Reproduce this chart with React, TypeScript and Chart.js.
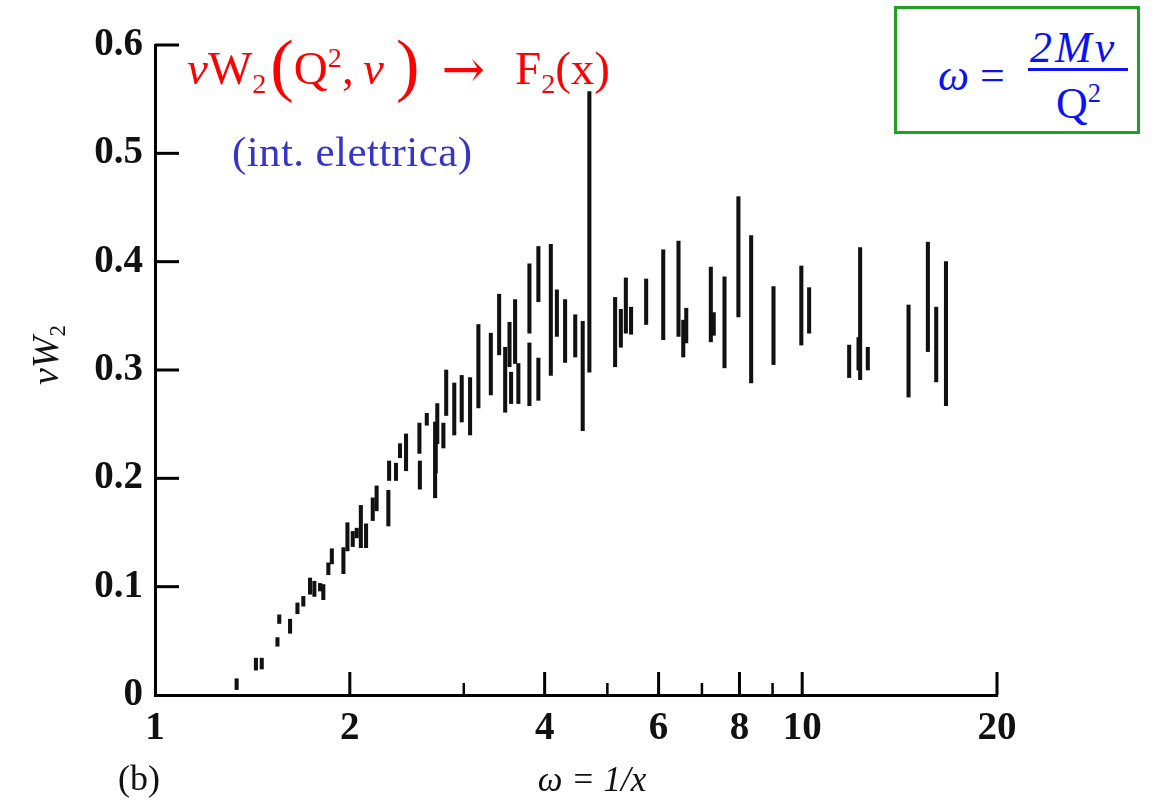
import React, { useEffect, useRef } from "react";
import { Chart, registerables } from "chart.js";

Chart.register(...registerables);

const omegaValues = [
  1.337, 1.432, 1.462, 1.546, 1.556, 1.617, 1.66, 1.695, 1.736, 1.763,
  1.799, 1.82, 1.853, 1.876, 1.955, 1.983, 2.021, 2.05, 2.08, 2.119,
  2.17, 2.2, 2.294, 2.3, 2.357, 2.391, 2.443, 2.562, 2.566, 2.63,
  2.709, 2.715, 2.73, 2.79, 2.818, 2.9, 2.978, 3.068, 3.16, 3.303,
  3.402, 3.476, 3.53, 3.55, 3.601, 3.643, 3.789, 3.789, 3.912, 3.912,
  4.089, 4.178, 4.302, 4.46, 4.58, 4.69, 5.14, 5.246, 5.34, 5.44,
  5.74, 6.1, 6.44, 6.55, 6.62, 7.225, 7.3, 7.585, 7.97, 8.34,
  9.03, 9.97, 10.25, 11.82, 12.22, 12.29, 12.63, 14.6, 15.64, 16.11,
  16.68,
];
// lower end of each error bar (nu W2)
const lowValues = [
  0.005, 0.023, 0.024, 0.045, 0.066, 0.057, 0.075, 0.082, 0.093, 0.091,
  0.096, 0.088, 0.111, 0.121, 0.112, 0.133, 0.137, 0.145, 0.136, 0.136,
  0.161, 0.17, 0.156, 0.198, 0.198, 0.219, 0.207, 0.223, 0.19, 0.249,
  0.182, 0.205, 0.232, 0.228, 0.258, 0.24, 0.252, 0.24, 0.265, 0.277,
  0.314, 0.261, 0.303, 0.269, 0.306, 0.269, 0.334, 0.267, 0.363, 0.272,
  0.295, 0.331, 0.307, 0.312, 0.244, 0.298, 0.303, 0.321, 0.334, 0.333,
  0.342, 0.328, 0.331, 0.312, 0.325, 0.326, 0.332, 0.302, 0.349, 0.288,
  0.305, 0.323, 0.334, 0.293, 0.3, 0.291, 0.3, 0.275, 0.317, 0.289,
  0.267,
];
// upper end of each error bar (nu W2)
const highValues = [
  0.015, 0.034, 0.034, 0.053, 0.074, 0.07, 0.085, 0.091, 0.108, 0.105,
  0.103, 0.102, 0.122, 0.135, 0.136, 0.159, 0.151, 0.154, 0.175, 0.158,
  0.182, 0.193, 0.189, 0.216, 0.214, 0.232, 0.241, 0.251, 0.216, 0.26,
  0.252, 0.232, 0.269, 0.251, 0.3, 0.288, 0.295, 0.293, 0.342, 0.334,
  0.37, 0.321, 0.344, 0.298, 0.365, 0.306, 0.398, 0.325, 0.414, 0.311,
  0.416, 0.374, 0.365, 0.351, 0.345, 0.557, 0.367, 0.356, 0.385, 0.358,
  0.384, 0.411, 0.419, 0.346, 0.357, 0.395, 0.353, 0.386, 0.46, 0.424,
  0.377, 0.396, 0.376, 0.323, 0.33, 0.413, 0.321, 0.36, 0.418, 0.358,
  0.4,
];

const xTickLabels = [1, 2, 4, 6, 8, 10, 20];
const xMajorMarks = [2, 4, 6, 8, 10, 20];
const xMinorMarks = [3, 5, 7, 9];
const yTickValues = [0, 0.1, 0.2, 0.3, 0.4, 0.5, 0.6];
const yTickLabels = ["0", "0.1", "0.2", "0.3", "0.4", "0.5", "0.6"];

const SERIF = '"Liberation Serif", "Times New Roman", serif';

const tickMarkPlugin = {
  id: "tickMarks",
  afterDraw(chart: any) {
    const { ctx, scales } = chart;
    const xs = scales.x;
    const ys = scales.y;
    const left = chart.chartArea.left;
    const bottom = chart.chartArea.bottom;
    ctx.save();
    ctx.strokeStyle = "#000";
    ctx.lineCap = "butt";
    ctx.lineWidth = 3;
    yTickValues.forEach((v) => {
      if (v === 0) return;
      const py = ys.getPixelForValue(v);
      ctx.beginPath();
      ctx.moveTo(left, py);
      ctx.lineTo(left + 24, py);
      ctx.stroke();
    });
    xMajorMarks.forEach((v) => {
      const px = xs.getPixelForValue(v);
      ctx.beginPath();
      ctx.moveTo(px, bottom);
      ctx.lineTo(px, bottom - 23);
      ctx.stroke();
    });
    ctx.lineWidth = 2.5;
    xMinorMarks.forEach((v) => {
      const px = xs.getPixelForValue(v);
      ctx.beginPath();
      ctx.moveTo(px, bottom);
      ctx.lineTo(px, bottom - 12);
      ctx.stroke();
    });
    ctx.restore();
  },
};

const sub: React.CSSProperties = { fontSize: "0.6em", position: "relative", top: "0.32em", lineHeight: 0 };
const sup: React.CSSProperties = { fontSize: "0.6em", position: "relative", top: "-0.6em", lineHeight: 0 };
const big: React.CSSProperties = { fontSize: "1.5em", position: "relative", top: "0.05em", lineHeight: 0, fontWeight: 300 };

export default function App() {
  const canvasRef = useRef<HTMLCanvasElement | null>(null);

  useEffect(() => {
    if (!canvasRef.current) return;
    const data = omegaValues.map((w, i) => ({ x: w, y: [lowValues[i], highValues[i]] }));
    const chart = new Chart(canvasRef.current, {
      type: "bar",
      data: {
        datasets: [
          {
            data: data as any,
            backgroundColor: "#111111",
            borderWidth: 0,
            barThickness: 3.4,
            borderSkipped: false,
          } as any,
        ],
      },
      options: {
        responsive: false,
        animation: false,
        layout: { padding: { left: 0, right: 155, top: 45, bottom: 0 } },
        plugins: {
          legend: { display: false },
          tooltip: { enabled: false },
          title: { display: false },
        },
        scales: {
          x: {
            type: "logarithmic",
            min: 1,
            max: 20,
            position: "bottom",
            grid: { display: false, drawTicks: false },
            border: { display: true, color: "#000", width: 3 },
            afterBuildTicks: (s: any) => {
              s.ticks = xTickLabels.map((v) => ({ value: v }));
            },
            afterFit: (s: any) => {
              s.height = 105;
            },
            ticks: {
              autoSkip: false,
              maxRotation: 0,
              minRotation: 0,
              padding: 11,
              color: "#111",
              font: { family: SERIF, size: 39, weight: "bold" },
              callback: (v: any) => String(v),
            },
          } as any,
          y: {
            type: "linear",
            min: 0,
            max: 0.6,
            grid: { display: false, drawTicks: false },
            border: { display: true, color: "#000", width: 3 },
            afterBuildTicks: (s: any) => {
              s.ticks = yTickValues.map((v) => ({ value: v }));
            },
            afterFit: (s: any) => {
              s.width = 155;
            },
            ticks: {
              padding: 12,
              color: "#111",
              font: { family: SERIF, size: 39, weight: "bold" },
              callback: (v: any) => {
                const i = yTickValues.findIndex((t) => Math.abs(t - Number(v)) < 1e-6);
                return i >= 0 ? yTickLabels[i] : "";
              },
            },
          } as any,
        },
      },
      plugins: [tickMarkPlugin],
    });
    return () => chart.destroy();
  }, []);

  return (
    <div
      style={{
        position: "absolute",
        left: 0,
        top: 0,
        width: 1152,
        height: 800,
        background: "#ffffff",
        overflow: "hidden",
      }}
    >
      <canvas ref={canvasRef} width={1152} height={800} style={{ position: "absolute", left: 0, top: 0 }} />

      {/* red formula */}
      <div
        style={{
          position: "absolute",
          left: 187,
          top: 45,
          fontFamily: SERIF,
          fontSize: 47,
          lineHeight: 1,
          color: "#ff0000",
          whiteSpace: "nowrap",
        }}
      >
        <i>ν</i>W<span style={sub}>2</span>
        <span style={{ ...big, marginLeft: 4 }}>(</span>Q<span style={sup}>2</span>,&thinsp;<i>ν</i>
        <span style={{ ...big, marginLeft: 12 }}>)</span>
        <span
          style={{
            display: "inline-block",
            marginLeft: 22,
            marginRight: 30,
            fontFamily: '"DejaVu Serif", serif',
            fontSize: 52,
            lineHeight: 0,
            position: "relative",
            top: 3,
          }}
        >
          →
        </span>
        F<span style={sub}>2</span>(x)
      </div>

      {/* blue note */}
      <div
        style={{
          position: "absolute",
          left: 232,
          top: 130,
          fontFamily: SERIF,
          fontSize: 43,
          lineHeight: 1,
          letterSpacing: 0.4,
          color: "#3535c8",
          whiteSpace: "nowrap",
        }}
      >
        (int. elettrica)
      </div>

      {/* definition box */}
      <div
        style={{
          position: "absolute",
          left: 894,
          top: 6,
          width: 240,
          height: 122,
          border: "3px solid #22a022",
          background: "#ffffff",
        }}
      />
      <div
        style={{
          position: "absolute",
          left: 938,
          top: 54,
          fontFamily: SERIF,
          fontSize: 44,
          lineHeight: 1,
          color: "#0a14f0",
          whiteSpace: "nowrap",
        }}
      >
        <i>ω</i> =
      </div>
      <div
        style={{
          position: "absolute",
          left: 1030,
          top: 26,
          fontFamily: SERIF,
          fontSize: 44,
          lineHeight: 1,
          color: "#0a14f0",
          whiteSpace: "nowrap",
          fontStyle: "italic",
          letterSpacing: 3,
        }}
      >
        2Mν
      </div>
      <div
        style={{
          position: "absolute",
          left: 1028,
          top: 68,
          width: 100,
          height: 3,
          background: "#0a14f0",
        }}
      />
      <div
        style={{
          position: "absolute",
          left: 1056,
          top: 82,
          fontFamily: SERIF,
          fontSize: 44,
          lineHeight: 1,
          color: "#0a14f0",
          whiteSpace: "nowrap",
        }}
      >
        Q<span style={sup}>2</span>
      </div>

      {/* y axis title */}
      <div
        style={{
          position: "absolute",
          left: 45,
          top: 355,
          transform: "translate(-50%, -50%) rotate(-90deg)",
          fontFamily: SERIF,
          fontSize: 38,
          lineHeight: 1,
          color: "#111",
          whiteSpace: "nowrap",
          fontStyle: "italic",
        }}
      >
        νW<span style={{ ...sub, fontStyle: "normal" }}>2</span>
      </div>

      {/* x axis title */}
      <div
        style={{
          position: "absolute",
          left: 592,
          top: 762,
          transform: "translateX(-50%)",
          fontFamily: SERIF,
          fontSize: 35,
          lineHeight: 1,
          color: "#111",
          whiteSpace: "nowrap",
          fontStyle: "italic",
        }}
      >
        ω = 1/x
      </div>

      {/* panel label */}
      <div
        style={{
          position: "absolute",
          left: 118,
          top: 760,
          fontFamily: SERIF,
          fontSize: 36,
          lineHeight: 1,
          color: "#111",
          whiteSpace: "nowrap",
        }}
      >
        (b)
      </div>
    </div>
  );
}
